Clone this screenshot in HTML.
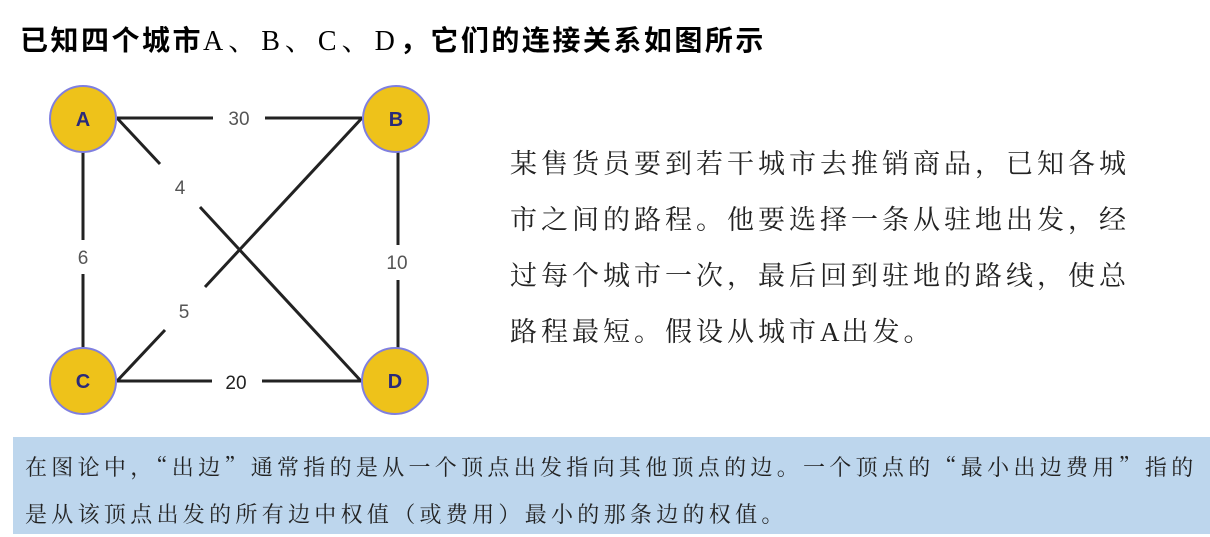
<!DOCTYPE html>
<html><head><meta charset="utf-8"><style>
body{margin:0;width:1210px;height:535px;background:#fff;position:relative;overflow:hidden}
.t{position:absolute;left:20px;top:21px;font:bold 28px "Noto Sans CJK SC",sans-serif;letter-spacing:2.5px;color:#000;white-space:nowrap;line-height:36px}
.t span{font-family:"Liberation Serif","Noto Serif CJK SC",serif;font-weight:normal;letter-spacing:5px}
.r{position:absolute;left:510px;top:134px;font:27px "Noto Serif CJK SC",serif;letter-spacing:4px;line-height:56px;color:#222;white-space:nowrap}
.r span{font-family:"Liberation Serif",serif;letter-spacing:2px}
.box{position:absolute;left:13px;top:437px;width:1197px;height:97px;background:#bdd6ed}
.b{position:absolute;left:25px;top:443px;font:22px "Noto Serif CJK SC",serif;letter-spacing:4.3px;line-height:47px;color:#222;white-space:nowrap}
</style></head><body>
<div class="t">已知四个城市<span>A、B、C、D</span>，它们的连接关系如图所示</div>
<svg width="460" height="430" style="position:absolute;left:0;top:0" font-family="Liberation Sans,sans-serif">
<g stroke="#222" stroke-width="3" fill="none">
<line x1="117" y1="118" x2="213" y2="118"/><line x1="265" y1="118" x2="362" y2="118"/>
<line x1="117" y1="381" x2="212" y2="381"/><line x1="262" y1="381" x2="362" y2="381"/>
<line x1="83" y1="150" x2="83" y2="240"/><line x1="83" y1="274" x2="83" y2="350"/>
<line x1="398" y1="150" x2="398" y2="245"/><line x1="398" y1="280" x2="398" y2="350"/>
<line x1="117" y1="118" x2="160" y2="164"/><line x1="200" y1="207" x2="361" y2="381"/>
<line x1="362" y1="118" x2="205" y2="287"/><line x1="165" y1="330" x2="117" y2="381"/>
</g>
<g fill="#eec21a" stroke="#7f7fe0" stroke-width="2">
<circle cx="83" cy="119" r="33"/><circle cx="396" cy="119" r="33"/>
<circle cx="83" cy="381" r="33"/><circle cx="395" cy="381" r="33"/>
</g>
<g fill="#2a2a7a" font-size="20" font-weight="bold" text-anchor="middle">
<text x="83" y="126">A</text><text x="396" y="126">B</text><text x="83" y="388">C</text><text x="395" y="388">D</text>
</g>
<g fill="#555" font-size="19" text-anchor="middle">
<text x="239" y="125">30</text><text x="236" y="389" fill="#222">20</text>
<text x="83" y="264">6</text><text x="397" y="269">10</text>
<text x="180" y="194">4</text><text x="184" y="318">5</text>
</g>
</svg>
<div class="r">某售货员要到若干城市去推销商品，已知各城<br>市之间的路程。他要选择一条从驻地出发，经<br>过每个城市一次，最后回到驻地的路线，使总<br>路程最短。假设从城市<span>A</span>出发。</div>
<div class="box"></div>
<div class="b">在图论中，“出边”通常指的是从一个顶点出发指向其他顶点的边。一个顶点的“最小出边费用”指的<br>是从该顶点出发的所有边中权值（或费用）最小的那条边的权值。</div>
</body></html>
